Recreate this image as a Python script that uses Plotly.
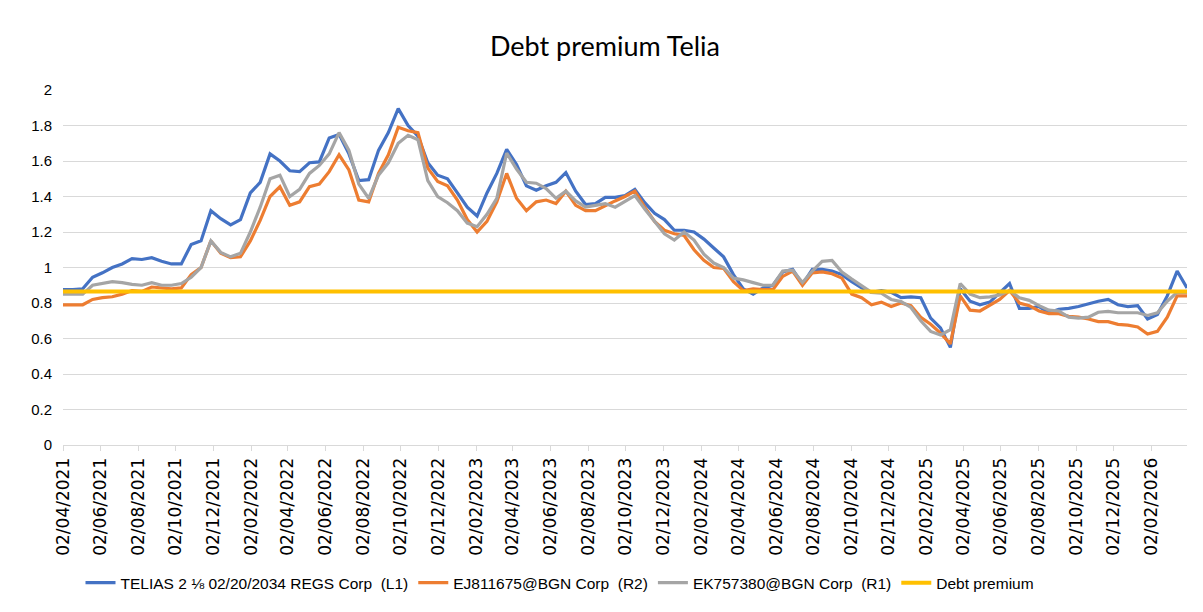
import pandas as pd
import plotly.graph_objects as go

# ---- data -------------------------------------------------------------
start_date = "2021-04-02"
n_points = 115
dates = pd.date_range(start_date, periods=n_points, freq="16D")

telias = [
    0.875, 0.875, 0.88, 0.945, 0.97, 1.0, 1.02, 1.05, 1.045, 1.055,
    1.035, 1.02, 1.02, 1.13, 1.15, 1.32, 1.275, 1.24, 1.27, 1.42,
    1.48, 1.64, 1.6, 1.545, 1.54, 1.59, 1.595, 1.73, 1.75, 1.64,
    1.49, 1.495, 1.66, 1.76, 1.895, 1.8, 1.74, 1.59, 1.52, 1.5,
    1.42, 1.34, 1.29, 1.42, 1.53, 1.665, 1.58, 1.46, 1.435, 1.46,
    1.48, 1.535, 1.43, 1.355, 1.36, 1.395, 1.395, 1.405, 1.44, 1.365,
    1.305, 1.27, 1.21, 1.21, 1.2, 1.16, 1.11, 1.06, 0.96, 0.88,
    0.85, 0.885, 0.9, 0.975, 0.99, 0.905, 0.99, 0.99, 0.98, 0.96,
    0.92, 0.885, 0.86, 0.87, 0.86, 0.83, 0.835, 0.83, 0.715, 0.66,
    0.55, 0.88, 0.81, 0.79, 0.805, 0.86, 0.91, 0.77, 0.77, 0.78,
    0.745, 0.765, 0.77, 0.78, 0.795, 0.81, 0.82, 0.79, 0.78, 0.785,
    0.71, 0.735, 0.84, 0.98, 0.885,
]

ej811675 = [
    0.79, 0.79, 0.79, 0.82, 0.83, 0.835, 0.85, 0.87, 0.865, 0.89,
    0.885, 0.88, 0.885, 0.96, 1.0, 1.15, 1.08, 1.055, 1.06, 1.15,
    1.265, 1.4, 1.455, 1.35, 1.37, 1.455, 1.47, 1.54, 1.635, 1.55,
    1.38, 1.37, 1.53, 1.635, 1.79, 1.77, 1.76, 1.56, 1.485, 1.46,
    1.38, 1.27, 1.2, 1.26, 1.37, 1.53, 1.39, 1.32, 1.37, 1.38,
    1.36, 1.43, 1.35, 1.32, 1.32, 1.35, 1.375, 1.4, 1.43, 1.34,
    1.26, 1.21, 1.19, 1.18, 1.1, 1.04, 1.0, 0.995, 0.92, 0.87,
    0.88, 0.875, 0.875, 0.95, 0.98, 0.9, 0.97, 0.975, 0.965, 0.94,
    0.85, 0.83, 0.79, 0.805, 0.78, 0.8, 0.785, 0.72, 0.68, 0.63,
    0.57, 0.84, 0.76, 0.755, 0.79, 0.82, 0.87, 0.8, 0.785, 0.755,
    0.74, 0.74, 0.725, 0.72, 0.71, 0.695, 0.695, 0.68, 0.675, 0.665,
    0.625, 0.64, 0.72, 0.84, 0.84,
]

ek757380 = [
    0.85, 0.85, 0.85, 0.9, 0.91, 0.92, 0.915, 0.905, 0.9, 0.915,
    0.9, 0.9, 0.91, 0.945, 1.0, 1.15, 1.085, 1.06, 1.08, 1.2,
    1.34, 1.5, 1.52, 1.4, 1.44, 1.53, 1.575, 1.64, 1.76, 1.66,
    1.47, 1.39, 1.52, 1.59, 1.7, 1.745, 1.72, 1.49, 1.4, 1.365,
    1.32, 1.25, 1.23, 1.3, 1.39, 1.645, 1.555, 1.48, 1.475, 1.445,
    1.39, 1.43, 1.375, 1.34, 1.35, 1.36, 1.34, 1.375, 1.405, 1.33,
    1.26, 1.19, 1.155, 1.2, 1.155, 1.075, 1.025, 1.0, 0.94, 0.93,
    0.915, 0.9, 0.9, 0.98, 0.985, 0.915, 0.98, 1.035, 1.04, 0.975,
    0.935, 0.895, 0.86, 0.855, 0.82, 0.808, 0.775, 0.7, 0.64, 0.62,
    0.65, 0.91, 0.85, 0.83, 0.835, 0.845, 0.87, 0.83, 0.815, 0.785,
    0.76, 0.755, 0.72, 0.715, 0.72, 0.748, 0.753, 0.745, 0.745, 0.745,
    0.73, 0.745, 0.81, 0.86, 0.86,
]

debt_premium_level = 0.865
debt_premium = [debt_premium_level] * n_points

tick_dates = pd.date_range("2021-04-01", "2026-02-01", freq="2MS") + pd.Timedelta(days=1)
tick_labels = [d.strftime("%d/%m/%Y") for d in tick_dates]

series_names = [
    "TELIAS 2 \u215b 02/20/2034 REGS Corp  (L1)",
    "EJ811675@BGN Corp  (R2)",
    "EK757380@BGN Corp  (R1)",
    "Debt premium",
]
series_values = [telias, ej811675, ek757380, debt_premium]
series_colors = ["#4472C4", "#ED7D31", "#A5A5A5", "#FFC000"]
series_widths = [3.2, 3.2, 3.2, 4]

# ---- figure -----------------------------------------------------------
# the page body adds an 8px offset; the figure is sized to fit the viewport
W, H = 1195, 604
PL, PT, PR, PB = 63, 90, 1187, 450  # plot area in page pixels
fig = go.Figure()
for name, vals, col, w in zip(series_names, series_values, series_colors, series_widths):
    fig.add_trace(go.Scatter(
        x=dates, y=vals, name=name, mode="lines",
        line=dict(color=col, width=w),
    ))

pw, ph = PR - PL, PB - PT
fig.update_layout(
    width=W, height=H,
    margin=dict(l=PL - 8, r=W + 8 - PR, t=PT - 8, b=H + 8 - PB),
    paper_bgcolor="white", plot_bgcolor="white",
    font=dict(family="Liberation Sans, Arial", color="#595959"),
    title=dict(
        text="Debt premium Telia",
        x=(605 - 8) / W, xref="container", xanchor="center",
        y=1 - (47 - 8) / H, yref="container", yanchor="middle",
        font=dict(family="Lato, Open Sans", size=27, color="#000000"),
    ),
    showlegend=True,
    legend=dict(
        orientation="h", x=(560 - PL) / pw, xanchor="center",
        y=(PB - 590) / ph, yanchor="middle",
        font=dict(family="Liberation Sans, Arial", size=15.5, color="#000000"),
        itemwidth=30, tracegroupgap=0,
    ),
    shapes=[dict(
        type="rect", xref="paper", yref="paper",
        x0=(4 - PL) / pw, x1=(1230 - PL) / pw,
        y0=(PB - 640) / ph, y1=(PB - 3) / ph,
        line=dict(color="#D9D9D9", width=1), layer="below",
    )],
)

fig.update_xaxes(
    type="date",
    range=[dates[0], dates[-1]],
    tickmode="array", tickvals=tick_dates, ticktext=tick_labels,
    tickangle=-90,
    tickfont=dict(family="DejaVu Sans", size=17, color="#000000"),
    showgrid=False,
    showline=True, linecolor="#D9D9D9", linewidth=1,
    ticks="outside", ticklen=5, tickcolor="#D9D9D9",
    zeroline=False,
)
fig.update_yaxes(
    range=[0, 2], dtick=0.2, tick0=0,
    tickfont=dict(family="Liberation Sans, Arial", size=15, color="#000000"),
    showgrid=True, gridcolor="#D9D9D9", gridwidth=1,
    zeroline=False, showline=False,
    ticklabelstandoff=10,
)

fig.write_html("out.html")
